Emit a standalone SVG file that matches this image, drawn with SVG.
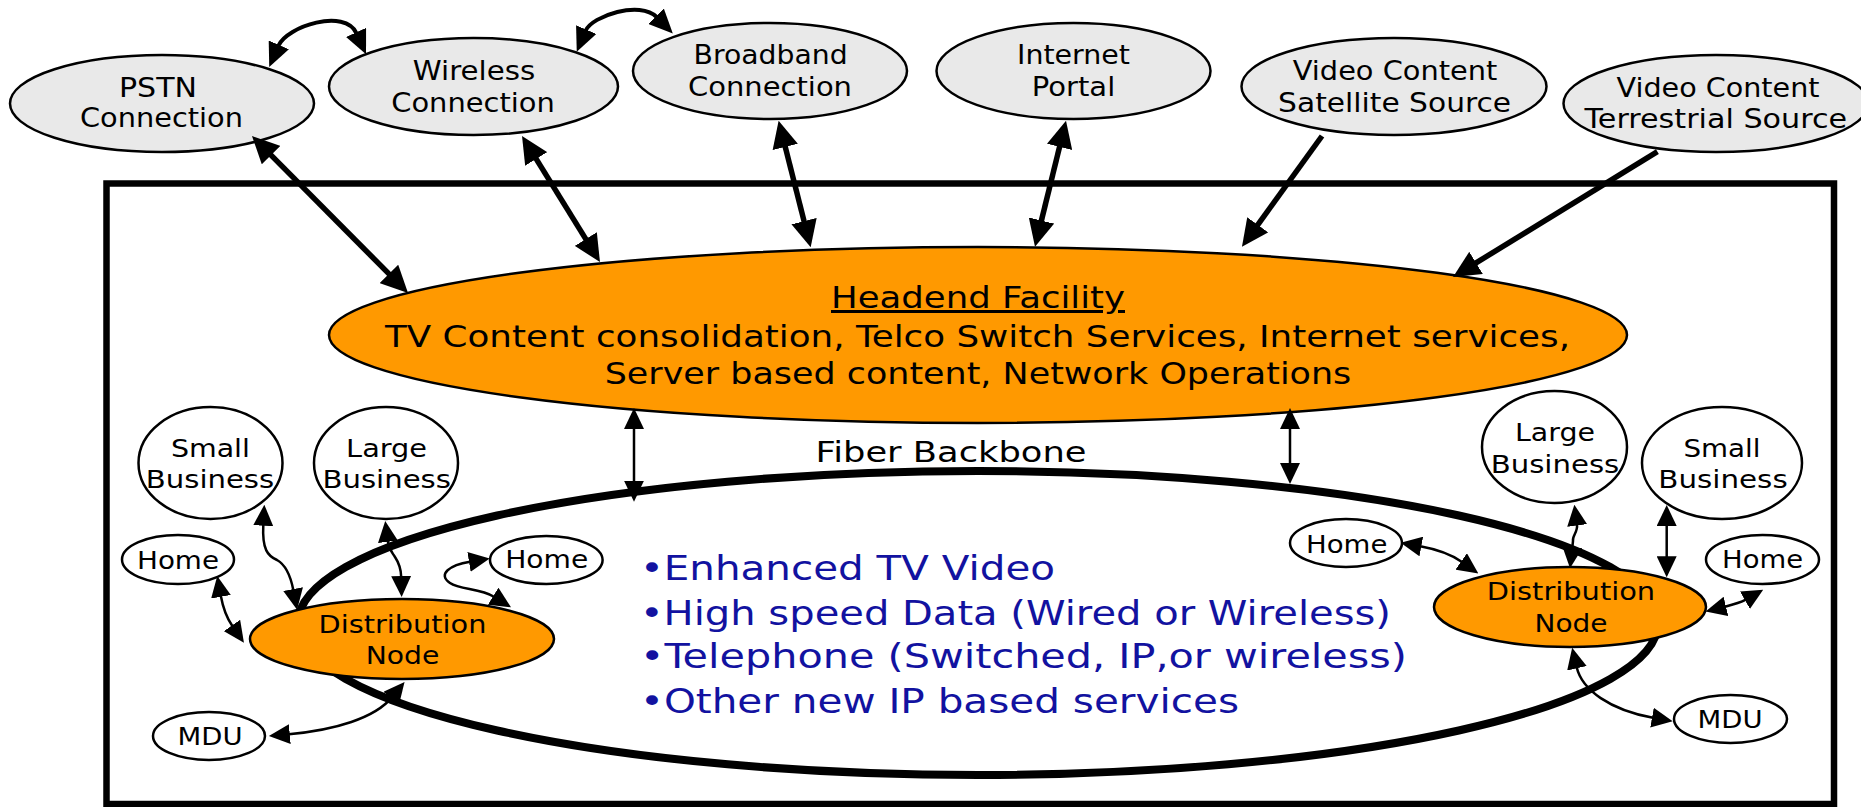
<svg xmlns="http://www.w3.org/2000/svg" width="1861" height="807" viewBox="0 0 1861 807">
<style>
.t{font-family:"DejaVu Sans","Liberation Sans",sans-serif;fill:#000;text-anchor:middle;}
.top{font-size:26px;}
.low{font-size:24px;}
.dist{font-size:25px;}
.he{font-size:30px;}
.bul{font-family:"DejaVu Sans","Liberation Sans",sans-serif;font-size:33px;fill:#1212a0;}
.gray{fill:#e9e9e9;stroke:#000;stroke-width:2.5;}
.orange{fill:#ff9900;stroke:#000;stroke-width:2.5;}
.white{fill:#fff;stroke:#000;stroke-width:2.5;}
.thick{fill:none;stroke:#000;stroke-width:5.5;}
.medium{fill:none;stroke:#000;stroke-width:4;}
.thin{fill:none;stroke:#000;stroke-width:2.5;}
</style>
<defs>
<marker id="mb" markerUnits="userSpaceOnUse" markerWidth="27" markerHeight="26" viewBox="0 -13 27 26" refX="1" refY="0" orient="auto-start-reverse"><path d="M0,-13 L27,0 L0,13 z" fill="#000"/></marker>
<marker id="mm" markerUnits="userSpaceOnUse" markerWidth="24" markerHeight="22" viewBox="0 -11 24 22" refX="1" refY="0" orient="auto-start-reverse"><path d="M0,-11 L24,0 L0,11 z" fill="#000"/></marker>
<marker id="ms" markerUnits="userSpaceOnUse" markerWidth="21" markerHeight="20" viewBox="0 -10 21 20" refX="1" refY="0" orient="auto-start-reverse"><path d="M0,-10 L21,0 L0,10 z" fill="#000"/></marker>
</defs>
<rect width="1861" height="807" fill="#fff"/>

<!-- outer system boundary -->
<rect id="boundary" x="106.5" y="183.5" width="1727.5" height="620.5" fill="none" stroke="#000" stroke-width="6.5"/>

<!-- fiber backbone ring -->
<g id="fiber-backbone">
<ellipse cx="978" cy="623" rx="680" ry="152" fill="none" stroke="#000" stroke-width="8"/>
<text class="t" x="951" y="462" font-size="28" textLength="271" lengthAdjust="spacingAndGlyphs">Fiber Backbone</text>
</g>

<g id="services">
<text class="bul" x="640" y="580" textLength="415" lengthAdjust="spacingAndGlyphs">•Enhanced TV Video</text>
<text class="bul" x="640" y="625" textLength="751" lengthAdjust="spacingAndGlyphs">•High speed Data (Wired or Wireless)</text>
<text class="bul" x="640" y="668" textLength="767" lengthAdjust="spacingAndGlyphs">•Telephone (Switched, IP,or wireless)</text>
<text class="bul" x="640" y="713" textLength="599" lengthAdjust="spacingAndGlyphs">•Other new IP based services</text>
</g>

<!-- top nodes -->
<g id="pstn">
<ellipse class="gray" cx="162" cy="103.5" rx="152" ry="48.5"/>
<text class="t top" x="158" y="96.5" textLength="78" lengthAdjust="spacingAndGlyphs">PSTN</text>
<text class="t top" x="161.5" y="127" textLength="163" lengthAdjust="spacingAndGlyphs">Connection</text>
</g>
<g id="wireless">
<ellipse class="gray" cx="473.5" cy="86.5" rx="144.5" ry="48.5"/>
<text class="t top" x="474" y="80" textLength="122.5" lengthAdjust="spacingAndGlyphs">Wireless</text>
<text class="t top" x="473" y="111.7" textLength="163.5" lengthAdjust="spacingAndGlyphs">Connection</text>
</g>
<g id="broadband">
<ellipse class="gray" cx="770" cy="71" rx="137" ry="48"/>
<text class="t top" x="770.6" y="64" textLength="154" lengthAdjust="spacingAndGlyphs">Broadband</text>
<text class="t top" x="770" y="96" textLength="164" lengthAdjust="spacingAndGlyphs">Connection</text>
</g>
<g id="internet">
<ellipse class="gray" cx="1073.5" cy="71" rx="137" ry="48"/>
<text class="t top" x="1073.5" y="64" textLength="113" lengthAdjust="spacingAndGlyphs">Internet</text>
<text class="t top" x="1073.5" y="96" textLength="83.4" lengthAdjust="spacingAndGlyphs">Portal</text>
</g>
<g id="satellite">
<ellipse class="gray" cx="1394" cy="86.5" rx="152.5" ry="48.5"/>
<text class="t top" x="1395" y="80" textLength="204.5" lengthAdjust="spacingAndGlyphs">Video Content</text>
<text class="t top" x="1394.6" y="111.7" textLength="233" lengthAdjust="spacingAndGlyphs">Satellite Source</text>
</g>
<g id="terrestrial">
<ellipse class="gray" cx="1716" cy="103.5" rx="152.5" ry="48.5"/>
<text class="t top" x="1718" y="96.7" textLength="203" lengthAdjust="spacingAndGlyphs">Video Content</text>
<text class="t top" x="1715.8" y="128.3" textLength="262.6" lengthAdjust="spacingAndGlyphs">Terrestrial Source</text>
</g>

<!-- headend -->
<g id="headend">
<ellipse class="orange" cx="978" cy="335" rx="649" ry="88"/>
<text class="t he" x="978" y="308" textLength="294" lengthAdjust="spacingAndGlyphs" text-decoration="underline">Headend Facility</text>
<text class="t he" x="977.5" y="346.7" textLength="1185" lengthAdjust="spacingAndGlyphs">TV Content consolidation, Telco Switch Services, Internet services,</text>
<text class="t he" x="978" y="384" textLength="746.6" lengthAdjust="spacingAndGlyphs">Server based content, Network Operations</text>
</g>

<!-- lower left nodes -->
<g id="small-business-left">
<ellipse class="white" cx="210.5" cy="463" rx="72" ry="56"/>
<text class="t low" x="210.4" y="456.7" textLength="79" lengthAdjust="spacingAndGlyphs">Small</text>
<text class="t low" x="210" y="488.3" textLength="128.5" lengthAdjust="spacingAndGlyphs">Business</text>
</g>
<g id="large-business-left">
<ellipse class="white" cx="386" cy="463" rx="72" ry="56"/>
<text class="t low" x="386.6" y="456.7" textLength="81" lengthAdjust="spacingAndGlyphs">Large</text>
<text class="t low" x="386.7" y="488.3" textLength="128.5" lengthAdjust="spacingAndGlyphs">Business</text>
</g>
<g id="home-left-1">
<ellipse class="white" cx="178" cy="559.5" rx="56" ry="24.5"/>
<text class="t low" x="178" y="569" textLength="82" lengthAdjust="spacingAndGlyphs">Home</text>
</g>
<g id="home-left-2">
<ellipse class="white" cx="546.3" cy="560" rx="56.3" ry="24"/>
<text class="t low" x="546.7" y="568.3" textLength="83" lengthAdjust="spacingAndGlyphs">Home</text>
</g>
<g id="distribution-left">
<ellipse class="orange" cx="402" cy="639" rx="152" ry="40"/>
<text class="t dist" x="402.5" y="632.7" textLength="168" lengthAdjust="spacingAndGlyphs">Distribution</text>
<text class="t dist" x="402.5" y="664" textLength="73.7" lengthAdjust="spacingAndGlyphs">Node</text>
</g>
<g id="mdu-left">
<ellipse class="white" cx="209" cy="736" rx="56" ry="24"/>
<text class="t dist" x="210" y="745" textLength="65" lengthAdjust="spacingAndGlyphs">MDU</text>
</g>

<!-- lower right nodes -->
<g id="large-business-right">
<ellipse class="white" cx="1554.5" cy="447" rx="72.5" ry="56"/>
<text class="t low" x="1555" y="441" textLength="80" lengthAdjust="spacingAndGlyphs">Large</text>
<text class="t low" x="1555" y="472.7" textLength="128.6" lengthAdjust="spacingAndGlyphs">Business</text>
</g>
<g id="small-business-right">
<ellipse class="white" cx="1722" cy="463" rx="80" ry="56"/>
<text class="t low" x="1722" y="456.7" textLength="77" lengthAdjust="spacingAndGlyphs">Small</text>
<text class="t low" x="1723" y="488.3" textLength="129.4" lengthAdjust="spacingAndGlyphs">Business</text>
</g>
<g id="home-right-1">
<ellipse class="white" cx="1346" cy="543" rx="56" ry="24"/>
<text class="t low" x="1346.7" y="552.7" textLength="81.3" lengthAdjust="spacingAndGlyphs">Home</text>
</g>
<g id="home-right-2">
<ellipse class="white" cx="1762.5" cy="559.5" rx="56.5" ry="24.5"/>
<text class="t low" x="1762.5" y="568.3" textLength="81" lengthAdjust="spacingAndGlyphs">Home</text>
</g>
<g id="distribution-right">
<ellipse class="orange" cx="1570" cy="607" rx="136" ry="40"/>
<text class="t dist" x="1571" y="600" textLength="168.3" lengthAdjust="spacingAndGlyphs">Distribution</text>
<text class="t dist" x="1571" y="631.7" textLength="73" lengthAdjust="spacingAndGlyphs">Node</text>
</g>
<g id="mdu-right">
<ellipse class="white" cx="1730.5" cy="719" rx="56.5" ry="24"/>
<text class="t dist" x="1730" y="728.3" textLength="65" lengthAdjust="spacingAndGlyphs">MDU</text>
</g>

<!-- connectors -->
<g id="connectors">
<path class="thick" d="M270.3 154.4 L389.7 274.6" marker-start="url(#mb)" marker-end="url(#mb)"/>
<path class="thick" d="M535.7 158.1 L586.3 239.9" marker-start="url(#mb)" marker-end="url(#mb)"/>
<path class="thick" d="M785 145.9 L804.3 222.1" marker-start="url(#mb)" marker-end="url(#mb)"/>
<path class="thick" d="M1059.8 145.9 L1041.2 221.5" marker-start="url(#mb)" marker-end="url(#mb)"/>
<path class="thick" d="M1322 136 L1257.2 225.6" marker-end="url(#mb)"/>
<path class="thick" d="M1657.4 151.7 L1475.2 263.4" marker-end="url(#mb)"/>
<path class="medium" d="M278.4 45.8 C287 26 345 8 356.5 33.3" marker-start="url(#mm)" marker-end="url(#mm)"/>
<path class="medium" d="M585.8 30.5 C592 16 640 0 656.7 17" marker-start="url(#mm)" marker-end="url(#mm)"/>
<path class="thin" d="M634 428 L634 481.7" marker-start="url(#ms)" marker-end="url(#ms)"/>
<path class="thin" d="M1290 428 L1290 464" marker-start="url(#ms)" marker-end="url(#ms)"/>
<path class="thin" d="M263.3 524.7 C262 550 268 556 277 560 C286 565 291 578 293.3 590" marker-start="url(#ms)" marker-end="url(#ms)"/>
<path class="thin" d="M387.8 540.8 C389 550 392 552 395 557 C399 563 401 568 401.2 577" marker-start="url(#ms)" marker-end="url(#ms)"/>
<path class="thin" d="M220.8 595.8 C223 608 226 617 232.5 626.3" marker-start="url(#ms)" marker-end="url(#ms)"/>
<path class="thin" d="M470 561.7 C450 565 437 574 450 583 C460 590 480 588 494 596.7" marker-start="url(#ms)" marker-end="url(#ms)"/>
<path class="thin" d="M391.9 697.4 C375 718 335 730 288.8 734.2" marker-start="url(#ms)" marker-end="url(#ms)"/>
<path class="thin" d="M1420.3 546.3 C1435 549 1452 555 1462 562" marker-start="url(#ms)" marker-end="url(#ms)"/>
<path class="thin" d="M1577 524.5 C1578 532 1572 536 1573 541 L1572.2 548.3" marker-start="url(#ms)" marker-end="url(#ms)"/>
<path class="thin" d="M1666.7 525 L1666.7 557.3" marker-start="url(#ms)" marker-end="url(#ms)"/>
<path class="thin" d="M1725 606.7 C1732 605 1740 603 1745.8 599.7" marker-start="url(#ms)" marker-end="url(#ms)"/>
<path class="thin" d="M1576.7 667.3 C1582 690 1610 710 1653 717.8" marker-start="url(#ms)" marker-end="url(#ms)"/>
</g>
</svg>
